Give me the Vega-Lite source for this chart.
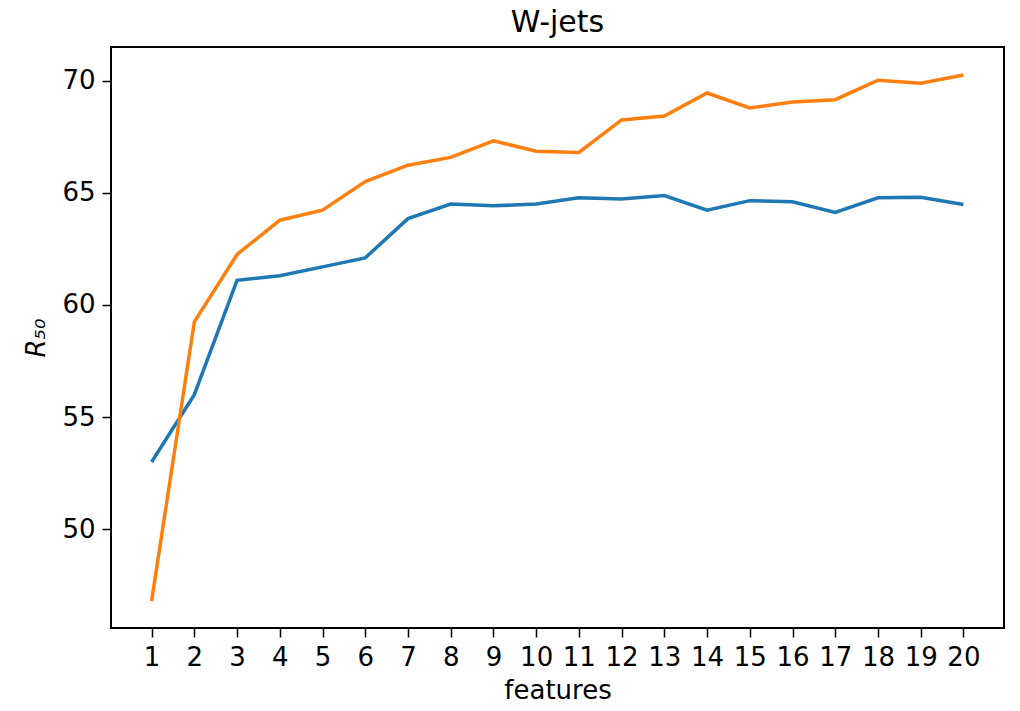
{
  "$schema": "https://vega.github.io/schema/vega-lite/v6.json",
  "autosize": {"type": "none"},
  "width": 893,
  "height": 581,
  "padding": {"left": 111, "top": 47, "right": 16, "bottom": 83},
  "background": "white",
  "title": {
    "text": "W-jets",
    "font": "DejaVu Sans",
    "fontSize": 30,
    "fontWeight": "normal",
    "color": "black",
    "offset": 9
  },
  "config": {
    "view": {"stroke": "black", "strokeWidth": 2},
    "axis": {
      "grid": false,
      "domain": false,
      "tickColor": "black",
      "tickSize": 9,
      "tickWidth": 1.5,
      "labelFont": "DejaVu Sans",
      "labelFontSize": 26,
      "labelColor": "black",
      "labelPadding": 7,
      "titleFont": "DejaVu Sans",
      "titleFontSize": 26,
      "titleFontWeight": "normal",
      "titleColor": "black"
    }
  },
  "data": {
    "values": [
      {"features": 1, "series": "a", "r50": 53.0},
      {"features": 2, "series": "a", "r50": 56.0},
      {"features": 3, "series": "a", "r50": 61.1},
      {"features": 4, "series": "a", "r50": 61.3},
      {"features": 5, "series": "a", "r50": 61.7},
      {"features": 6, "series": "a", "r50": 62.1},
      {"features": 7, "series": "a", "r50": 63.85},
      {"features": 8, "series": "a", "r50": 64.5},
      {"features": 9, "series": "a", "r50": 64.42},
      {"features": 10, "series": "a", "r50": 64.5},
      {"features": 11, "series": "a", "r50": 64.78},
      {"features": 12, "series": "a", "r50": 64.72},
      {"features": 13, "series": "a", "r50": 64.88},
      {"features": 14, "series": "a", "r50": 64.23},
      {"features": 15, "series": "a", "r50": 64.65},
      {"features": 16, "series": "a", "r50": 64.6},
      {"features": 17, "series": "a", "r50": 64.13},
      {"features": 18, "series": "a", "r50": 64.78},
      {"features": 19, "series": "a", "r50": 64.8},
      {"features": 20, "series": "a", "r50": 64.48},
      {"features": 1, "series": "b", "r50": 46.8},
      {"features": 2, "series": "b", "r50": 59.25},
      {"features": 3, "series": "b", "r50": 62.25},
      {"features": 4, "series": "b", "r50": 63.78},
      {"features": 5, "series": "b", "r50": 64.23},
      {"features": 6, "series": "b", "r50": 65.5},
      {"features": 7, "series": "b", "r50": 66.23},
      {"features": 8, "series": "b", "r50": 66.58},
      {"features": 9, "series": "b", "r50": 67.32},
      {"features": 10, "series": "b", "r50": 66.85},
      {"features": 11, "series": "b", "r50": 66.8},
      {"features": 12, "series": "b", "r50": 68.25},
      {"features": 13, "series": "b", "r50": 68.42},
      {"features": 14, "series": "b", "r50": 69.45},
      {"features": 15, "series": "b", "r50": 68.78},
      {"features": 16, "series": "b", "r50": 69.05},
      {"features": 17, "series": "b", "r50": 69.15},
      {"features": 18, "series": "b", "r50": 70.02},
      {"features": 19, "series": "b", "r50": 69.88},
      {"features": 20, "series": "b", "r50": 70.25}
    ]
  },
  "mark": {"type": "line", "strokeWidth": 3.5, "clip": true},
  "encoding": {
    "x": {
      "field": "features",
      "type": "quantitative",
      "scale": {"domain": [0.05, 20.95], "nice": false, "zero": false},
      "axis": {
        "values": [1, 2, 3, 4, 5, 6, 7, 8, 9, 10, 11, 12, 13, 14, 15, 16, 17, 18, 19, 20],
        "format": "d",
        "title": "features",
        "titlePadding": 7
      }
    },
    "y": {
      "field": "r50",
      "type": "quantitative",
      "scale": {"domain": [45.6, 71.5], "nice": false, "zero": false},
      "axis": {
        "values": [50, 55, 60, 65, 70],
        "format": "d",
        "title": "R₅₀",
        "titleFontStyle": "italic",
        "titlePadding": 12
      }
    },
    "color": {
      "field": "series",
      "type": "nominal",
      "scale": {"domain": ["a", "b"], "range": ["#1f77b4", "#ff7f0e"]},
      "legend": null
    }
  }
}
